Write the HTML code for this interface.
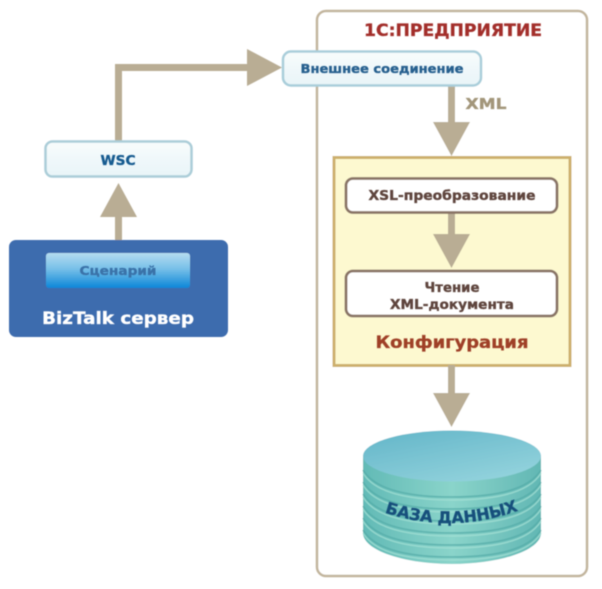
<!DOCTYPE html>
<html lang="ru">
<head>
<meta charset="utf-8">
<style>
html,body{margin:0;padding:0;background:#fff;width:602px;height:589px;overflow:hidden}
svg{display:block}
text{font-family:"DejaVu Sans","Liberation Sans",sans-serif;font-weight:bold;text-anchor:middle;stroke-width:.35px}
</style>
</head>
<body>
<svg width="602" height="589" viewBox="0 0 602 589" xmlns="http://www.w3.org/2000/svg">
<defs>
  <linearGradient id="scen" x1="0" y1="0" x2="0" y2="1">
    <stop offset="0" stop-color="#b5dcf0"/>
    <stop offset=".45" stop-color="#78c0e8"/>
    <stop offset="1" stop-color="#0b86d8"/>
  </linearGradient>
  <linearGradient id="pale" x1="0" y1="0" x2="0" y2="1">
    <stop offset="0" stop-color="#f8fcfc"/>
    <stop offset="1" stop-color="#e8f4f8"/>
  </linearGradient>
  <linearGradient id="top" x1="0" y1="0" x2=".7" y2="1">
    <stop offset="0" stop-color="#62b5c8"/>
    <stop offset="1" stop-color="#92d2dc"/>
  </linearGradient>
  <linearGradient id="side" x1="0" y1="0" x2="1" y2="0">
    <stop offset="0" stop-color="#62bab6"/>
    <stop offset=".5" stop-color="#8ad4ca"/>
    <stop offset="1" stop-color="#62b7b4"/>
  </linearGradient>
  <filter id="soft" x="-5%" y="-5%" width="110%" height="110%"><feGaussianBlur stdDeviation=".45"/></filter>
  <filter id="softer" x="-5%" y="-5%" width="110%" height="110%"><feGaussianBlur stdDeviation=".6"/></filter>
</defs>

<g filter="url(#soft)">
  <!-- Enterprise frame -->
  <rect x="317" y="11" width="270" height="565" rx="9" fill="#fff" stroke="#c2b59d" stroke-width="2.5"/>

  <!-- Configuration -->
  <rect x="334" y="157.500" width="236" height="208" fill="#fdf9d0" stroke="#cdb06d" stroke-width="3"/>

  <!-- Connectors -->
  <g fill="#b9ad94">
    <path d="M115 241V217H100L118.500 183L137 217H122V241Z"/>
    <rect x="115" y="64" width="7" height="78"/>
    <path d="M115 64H247V49L282 67.500L247 86V71H115Z"/>
    <path d="M448 85H455V122H470L451.500 156L433 122H448Z"/>
    <path d="M448 212H455V234H470L451.500 268L433 234H448Z"/>
    <path d="M448 365H455V393H470L451.500 427L433 393H448Z"/>
  </g>

  <!-- Outer connection -->
  <rect x="283" y="51.500" width="198" height="34" rx="8" fill="url(#pale)" stroke="#a9ceda" stroke-width="2.500"/>
  <!-- WSC -->
  <rect x="45.500" y="141.500" width="146" height="35" rx="7" fill="url(#pale)" stroke="#abcdd8" stroke-width="2.500"/>

  <!-- BizTalk -->
  <rect x="9" y="240" width="219" height="97" rx="7" fill="#3e6cae"/>
  <rect x="46" y="253" width="144" height="35" rx="3" fill="url(#scen)"/>

  <rect x="346" y="178.500" width="211" height="34" rx="7" fill="#fff" stroke="#8a7566" stroke-width="2.800"/>
  <rect x="346" y="271" width="211" height="45" rx="7" fill="#fff" stroke="#8a7566" stroke-width="2.800"/>

  <!-- Database -->
  <path d="M363 455V533C363 550 403 564 452 564S541 550 541 533V455Z" fill="url(#side)"/>
  <g fill="none" stroke="#54aca8" stroke-width="1.800" opacity=".7">
    <path d="M363 470C375 490 410 497 452 497S529 490 541 470"/>
    <path d="M363 482C375 502 410 509 452 509S529 502 541 482"/>
    <path d="M363 494C375 514 410 521 452 521S529 514 541 494"/>
    <path d="M363 506C375 526 410 533 452 533S529 526 541 506"/>
    <path d="M363 518C375 538 410 545 452 545S529 538 541 518"/>
    <path d="M363 530C375 550 410 557 452 557S529 550 541 530"/>
  </g>
  <g fill="none" stroke="#a6e2d6" stroke-width="1.500" opacity=".7">
    <path d="M363 473C375 493 410 500 452 500S529 493 541 473"/>
    <path d="M363 485C375 505 410 512 452 512S529 505 541 485"/>
    <path d="M363 497C375 517 410 524 452 524S529 517 541 497"/>
    <path d="M363 509C375 529 410 536 452 536S529 529 541 509"/>
    <path d="M363 521C375 541 410 548 452 548S529 541 541 521"/>
    <path d="M363 533C375 553 410 560 452 560S529 553 541 533"/>
  </g>
  <ellipse cx="452" cy="456" rx="89" ry="25.500" fill="url(#top)"/>
</g>

<g filter="url(#softer)">
  <text x="453" y="36" font-size="16.500" fill="#a32f2c" stroke="#a32f2c" textLength="178" lengthAdjust="spacingAndGlyphs">1С:ПРЕДПРИЯТИЕ</text>
  <text x="382" y="73" font-size="12.500" fill="#27608f" stroke="#27608f" textLength="163" lengthAdjust="spacingAndGlyphs">Внешнее соединение</text>
  <text x="486" y="109" font-size="15" fill="#a3967a" stroke="#a3967a" textLength="41" lengthAdjust="spacingAndGlyphs">XML</text>
  <text x="118" y="165" font-size="13" fill="#175b90" stroke="#175b90" textLength="35" lengthAdjust="spacingAndGlyphs">WSC</text>
  <text x="118" y="275" font-size="12.500" fill="#3a72a8" stroke="#3a72a8" textLength="77" lengthAdjust="spacingAndGlyphs">Сценарий</text>
  <text x="118" y="324" font-size="17" fill="#fff" stroke="#fff" textLength="152" lengthAdjust="spacingAndGlyphs">BizTalk сервер</text>
  <text x="452" y="200" font-size="13.500" fill="#5e453d" stroke="#5e453d" textLength="167" lengthAdjust="spacingAndGlyphs">XSL-преобразование</text>
  <text x="452" y="292" font-size="13" fill="#5e453d" stroke="#5e453d" textLength="55" lengthAdjust="spacingAndGlyphs">Чтение</text>
  <text x="452" y="309" font-size="13" fill="#5e453d" stroke="#5e453d" textLength="124" lengthAdjust="spacingAndGlyphs">XML-документа</text>
  <text x="452" y="348" font-size="17" fill="#9f3f28" stroke="#9f3f28" textLength="153" lengthAdjust="spacingAndGlyphs">Конфигурация</text>
  <path id="dbarc" d="M386 513Q452 534 517 511" fill="none"/>
  <text font-size="16" fill="#17507c" stroke="#17507c"><textPath href="#dbarc" startOffset="50%">БАЗА ДАННЫХ</textPath></text>
</g>
</svg>
</body>
</html>
